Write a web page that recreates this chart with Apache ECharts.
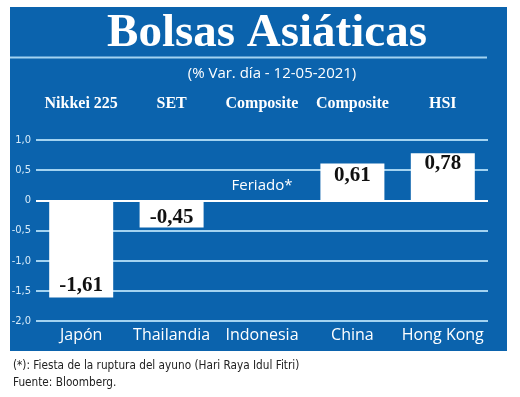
<!DOCTYPE html>
<html>
<head>
<meta charset="utf-8">
<script src="https://cdn.jsdelivr.net/npm/echarts@6/dist/echarts.min.js"></script>
<style>
  html, body { margin: 0; padding: 0; background: #fff; }
  #chart { width: 520px; height: 397px; }
</style>
</head>
<body>
<div id="chart"></div>
<script>
// datos
const countries = ["Japón", "Thailandia", "Indonesia", "China", "Hong Kong"]
const indexNames = ["Nikkei 225", "SET", "Composite", "Composite", "HSI"]
const values = [-1.61, -0.45, null, 0.61, 0.78]
const notes = ["", "", "Feriado*", "", ""]
const yTicks = [-2, -1.5, -1, -0.5, 0, 0.5, 1]

const BLUE = "#0b63ad"
const GRID = "#a3d3f1"
const serif = "'Liberation Serif', 'DejaVu Serif', serif"
const sans = "'Open Sans', 'Noto Sans', sans-serif"
const narrow = "'Liberation Sans Narrow', 'DejaVu Sans Condensed', 'Open Sans', sans-serif"

const fmt = (v) => (v === 0 ? "0" : v.toFixed(1).replace(".", ","))

const labelFor = (v) => {
  if (v < -1) return { position: "insideBottom", distance: 1 }
  if (v < 0) return { position: "inside", offset: [0, 4] }
  return { position: "insideTop", distance: v > 0.7 ? 0 : 2 }
}

const chart = echarts.init(document.getElementById("chart"))
chart.setOption({
  backgroundColor: "#fff",
  animation: false,
  graphic: [
    { type: "rect", z: -10, shape: { x: 10, y: 7, width: 497, height: 344 }, style: { fill: BLUE } },
    { type: "line", z: -5, shape: { x1: 10, y1: 57.5, x2: 487, y2: 57.5 }, style: { stroke: GRID, lineWidth: 2 } },
    {
      type: "text", x: 267, y: 34, z: 5,
      style: { text: "Bolsas Asiáticas", fill: "#fff", font: `bold 47px ${serif}`, align: "center", verticalAlign: "middle" },
    },
    {
      type: "text", x: 272, y: 74, z: 5,
      style: { text: "(% Var. día - 12-05-2021)", fill: "#fff", font: `15px ${sans}`, align: "center", verticalAlign: "middle" },
    },
    {
      type: "text", x: 13, y: 366, z: 5, scaleX: 0.9,
      style: { text: "(*): Fiesta de la ruptura del ayuno (Hari Raya Idul Fitri)", fill: "#222", font: `13px ${narrow}`, verticalAlign: "middle" },
    },
    {
      type: "text", x: 13, y: 383, z: 5, scaleX: 0.9,
      style: { text: "Fuente: Bloomberg.", fill: "#222", font: `13px ${narrow}`, verticalAlign: "middle" },
    },
  ],
  grid: { left: 36, right: 32, top: 140, bottom: 76 },
  xAxis: [
    {
      type: "category",
      data: countries,
      position: "bottom",
      axisLine: { show: false, onZero: false },
      axisTick: { show: false },
      axisLabel: { interval: 0, color: "#fff", fontFamily: sans, fontSize: 16, margin: 6 },
    },
    {
      type: "category",
      data: indexNames,
      position: "top",
      axisLine: { show: false },
      axisTick: { show: false },
      axisLabel: { interval: 0, color: "#fff", fontFamily: serif, fontWeight: "bold", fontSize: 16, margin: 28 },
    },
  ],
  yAxis: {
    type: "value",
    min: yTicks[0],
    max: yTicks[yTicks.length - 1],
    interval: 0.5,
    axisLine: { show: false },
    axisTick: { show: false },
    axisLabel: { color: "#d8ecfa", fontFamily: narrow, fontSize: 11, margin: 5, formatter: fmt },
    splitLine: {
      lineStyle: { width: 2, color: yTicks.map((t) => (t === 0 ? "#ffffff" : GRID)) },
    },
  },
  series: [
    {
      type: "bar",
      barWidth: 64,
      data: values.map((v) =>
        v === null ? null : {
          value: v,
          label: { show: true, ...labelFor(v) },
        }
      ),
      itemStyle: { color: "#fff" },
      label: {
        color: "#111",
        fontFamily: serif,
        fontWeight: "bold",
        fontSize: 21,
        formatter: (p) => p.value.toFixed(2).replace(".", ","),
      },
    },
    {
      type: "bar",
      barWidth: 64,
      barGap: "-100%",
      silent: true,
      data: notes.map((n) => (n ? 0 : null)),
      itemStyle: { color: "transparent" },
      label: {
        show: true,
        position: "top",
        distance: 7,
        color: "#fff",
        fontFamily: sans,
        fontSize: 15,
        formatter: (p) => notes[p.dataIndex],
      },
    },
  ],
})
</script>
</body>
</html>
